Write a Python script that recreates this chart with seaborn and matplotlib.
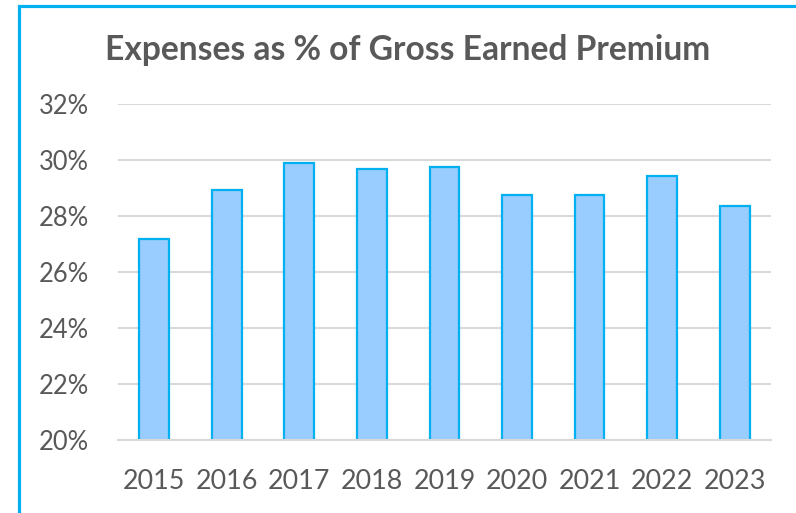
import matplotlib
matplotlib.use("Agg")
import matplotlib.pyplot as plt
import matplotlib.ticker as mticker
from matplotlib.patches import Rectangle
import pandas as pd
import seaborn as sns

sns.set_theme(style="white")
plt.rcParams['font.family'] = ['Lato', 'DejaVu Sans']

years = ["2015", "2016", "2017", "2018", "2019", "2020", "2021", "2022", "2023"]
expense_pct = [27.17, 28.93, 29.90, 29.69, 29.74, 28.76, 28.76, 29.43, 28.36]
y_ticks = [20, 22, 24, 26, 28, 30, 32]

df = pd.DataFrame({"year": years, "pct": expense_pct})

grey = "#595959"
fig = plt.figure(figsize=(7.96, 5.13), dpi=100)
ax = fig.add_axes([0.1482, 0.1423, 0.8204, 0.655])

sns.barplot(data=df, x="year", y="pct", color="#99CCFF", width=0.41,
            edgecolor="#00B0F0", linewidth=1.6, saturation=1, ax=ax)

ax.set_ylim(20, 32)
ax.set_xlim(-0.5, 8.5)
ax.set_yticks(y_ticks)
ax.yaxis.set_major_formatter(mticker.FuncFormatter(lambda v, p: f"{v:.0f}%"))
ax.yaxis.grid(True, color="#d9d9d9", linewidth=1.5)
ax.set_axisbelow(True)
for s in ["top", "right", "left"]:
    ax.spines[s].set_visible(False)
ax.spines["bottom"].set_color("#d9d9d9")
ax.spines["bottom"].set_linewidth(1.5)
ax.set_xlabel("")
ax.set_ylabel("")
ax.tick_params(axis="y", length=0, pad=21, labelsize=18.4, labelcolor=grey)
ax.tick_params(axis="x", length=0, pad=21, labelsize=19.4, labelcolor=grey)

fig.text(0.512, 0.884, "Expenses as % of Gross Earned Premium", ha="center",
         va="baseline", fontsize=24.2, fontweight="bold", color=grey)

# chart frame (only left and top edges fall inside the picture)
fig.patches.append(Rectangle((19 / 796, -0.1), 2, 1.0 - 5.7 / 513 + 0.1,
                             transform=fig.transFigure, fill=False,
                             edgecolor="#00B0F0", linewidth=2.3))

fig.savefig("out.png", dpi=100)
